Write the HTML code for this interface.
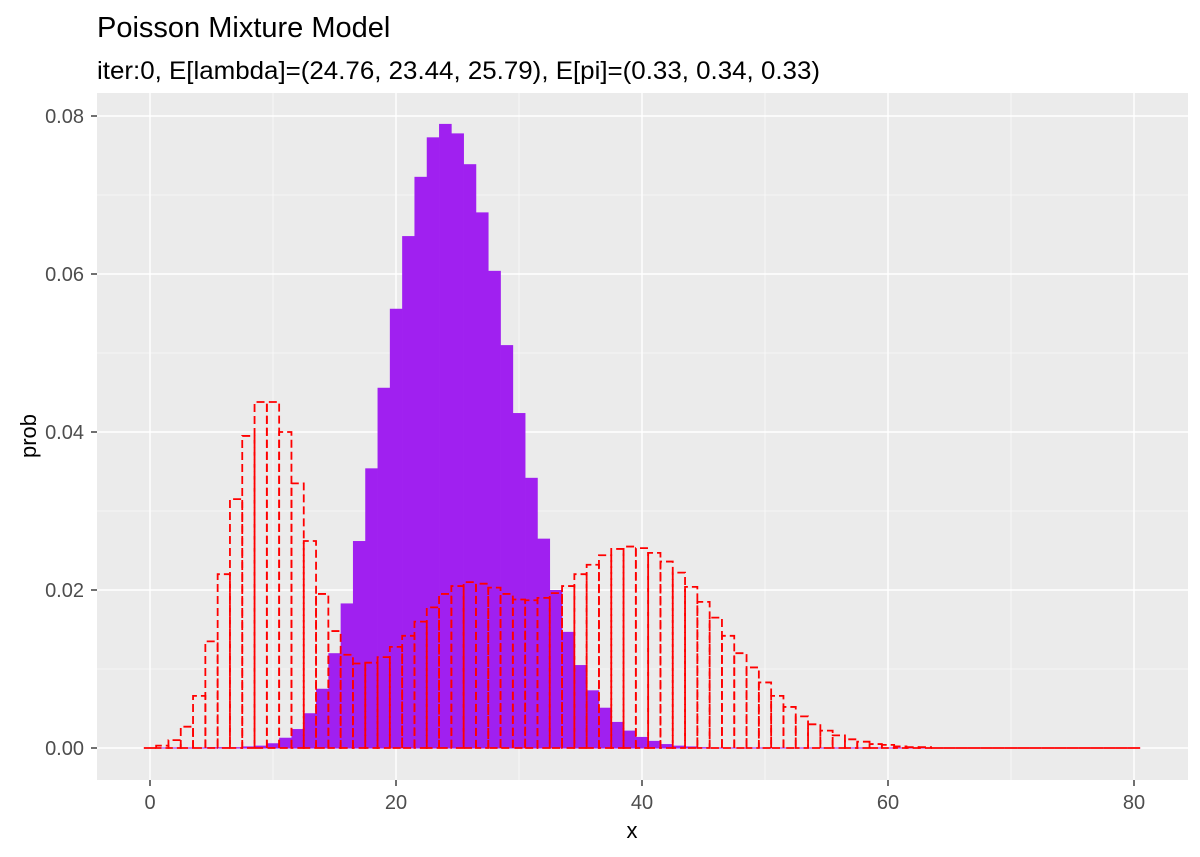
<!DOCTYPE html>
<html><head><meta charset="utf-8"><style>
body{margin:0;background:#fff;}
svg{display:block;font-family:"Liberation Sans",Arial,sans-serif;}
</style></head><body>
<svg id="chart" width="1200" height="857">
<text x="97" y="37" font-size="29" fill="#000">Poisson Mixture Model</text>
<text x="97" y="79" font-size="25" fill="#000" textLength="723" lengthAdjust="spacingAndGlyphs">iter:0, E[lambda]=(24.76, 23.44, 25.79), E[pi]=(0.33, 0.34, 0.33)</text>
<rect x="97" y="93" width="1091" height="687" fill="#ebebeb"/>
<g id="grid"></g><g id="purple"></g><g id="red"></g><g id="axes"></g>
<text x="632" y="838" font-size="22" text-anchor="middle" fill="#000">x</text>
<text transform="translate(36,436) rotate(-90)" font-size="22" text-anchor="middle" fill="#000">prob</text>
</svg>
<script>
const xTicks=[0,20,40,60,80];
const yTicks=[0,0.02,0.04,0.06,0.08];
const yTickLabels=["0.00","0.02","0.04","0.06","0.08"];
const purpleX=[5,6,7,8,9,10,11,12,13,14,15,16,17,18,19,20,21,22,23,24,25,26,27,28,29,30,31,32,33,34,35,36,37,38,39,40,41,42,43,44,45];
const purpleY=[0.0001,0.0001,0.0001,0.0002,0.0003,0.0006,0.0013,0.0024,0.0044,0.0075,0.012,0.0183,0.0262,0.0354,0.0456,0.0556,0.0648,0.0723,0.0773,0.079,0.0778,0.0739,0.0678,0.0604,0.051,0.0424,0.0342,0.0265,0.020,0.0147,0.0105,0.0073,0.0051,0.0033,0.0022,0.0014,0.0009,0.0005,0.0003,0.0002,0.0001];
const redY=[0,0.0003,0.001,0.0027,0.0066,0.0135,0.022,0.0315,0.0395,0.0438,0.0438,0.040,0.0335,0.0262,0.0195,0.0148,0.0118,0.0107,0.0108,0.0115,0.0128,0.0142,0.016,0.0178,0.0195,0.0205,0.021,0.0208,0.0203,0.0195,0.0188,0.0187,0.019,0.0196,0.0205,0.022,0.0232,0.0244,0.0252,0.0255,0.0253,0.0247,0.0236,0.0222,0.0204,0.0185,0.0165,0.0142,0.012,0.0102,0.0083,0.0066,0.0052,0.004,0.003,0.0022,0.0016,0.0011,0.0008,0.0005,0.0004,0.0002,0.0001,0.0001,0,0,0,0,0,0,0,0,0,0,0,0,0,0,0,0,0];
const NS="http://www.w3.org/2000/svg";
const X=v=>150+v*12.3, Y=v=>748-v*7900;
function mk(tag,parent,attrs){const e=document.createElementNS(NS,tag);for(const k in attrs)e.setAttribute(k,attrs[k]);document.getElementById(parent).appendChild(e);return e;}
for(let v=10;v<=70;v+=20){const e=mk('line','grid',{x1:X(v),x2:X(v),y1:93,y2:780,stroke:'#fff','stroke-width':0.6});

}
for(let v=0.01;v<0.08;v+=0.02){const e=mk('line','grid',{x1:97,x2:1188,y1:Y(v),y2:Y(v),stroke:'#fff','stroke-width':0.6});

}
xTicks.forEach(v=>{const e=mk('line','grid',{x1:X(v),x2:X(v),y1:93,y2:780,stroke:'#fff','stroke-width':1.4});


const t=mk('line','axes',{x1:X(v),x2:X(v),y1:780,y2:786,stroke:'#333','stroke-width':1.4});


const l=mk('text','axes',{x:X(v),y:809,'font-size':20,'text-anchor':'middle',fill:'#4d4d4d'});l.textContent=v;

});
yTicks.forEach((v,i)=>{const e=mk('line','grid',{x1:97,x2:1188,y1:Y(v),y2:Y(v),stroke:'#fff','stroke-width':1.4});


const t=mk('line','axes',{x1:91,x2:97,y1:Y(v),y2:Y(v),stroke:'#333','stroke-width':1.4});


const l=mk('text','axes',{x:84,y:Y(v)+7,'font-size':20,'text-anchor':'end',fill:'#4d4d4d'});l.textContent=yTickLabels[i];

});
const base=mk('line','purple',{x1:X(-0.5),x2:X(80.5),y1:Y(0),y2:Y(0),stroke:'#a020f0','stroke-width':1});


purpleX.forEach((x,i)=>{const h=purpleY[i]*7900;const r=mk('rect','purple',{x:X(x-0.5),y:Y(purpleY[i]),width:12.6,height:Math.max(h,0.5),fill:'#a020f0'});

});
redY.forEach((v,i)=>{const x0=X(i-0.5),x1=X(i+0.5),y=Y(v),b=Y(0);
const p=mk('path','red',{d:`M${x0},${b}L${x0},${y}L${x1},${y}L${x1},${b}Z`,fill:'none',stroke:'#ff0000','stroke-width':1.8,'stroke-dasharray':'8,4'});

});
</script>
</body></html>
